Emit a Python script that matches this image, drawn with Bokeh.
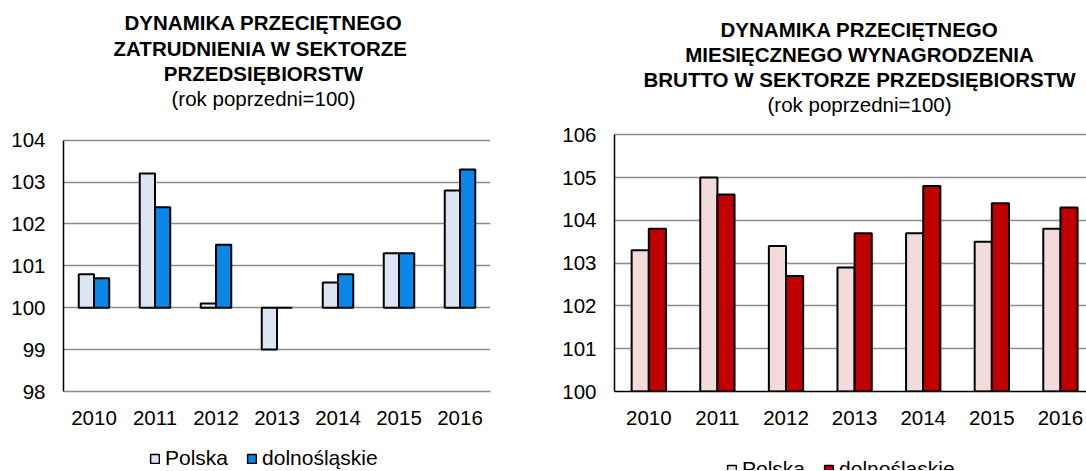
from bokeh.plotting import figure
from bokeh.models import Range1d, FixedTicker, Label, Legend, LegendItem, ColumnDataSource
from bokeh.layouts import row, column
from bokeh.embed import file_html
from bokeh.resources import INLINE
from bokeh.transform import dodge

# ---------------- data ----------------
years = ["2010", "2011", "2012", "2013", "2014", "2015", "2016"]
emp_polska = [100.8, 103.2, 100.1, 99.0, 100.6, 101.3, 102.8]
emp_dolnoslaskie = [100.7, 102.4, 101.5, 100.0, 100.8, 101.3, 103.3]
wage_polska = [103.3, 105.0, 103.4, 102.9, 103.7, 103.5, 103.8]
wage_dolnoslaskie = [103.8, 104.6, 102.7, 103.7, 104.8, 104.4, 104.3]
emp_ticks = [98, 99, 100, 101, 102, 103, 104]
wage_ticks = [100, 101, 102, 103, 104, 105, 106]
base_value = 100
series_names = ["Polska", "dolnośląskie"]

emp_title = ["DYNAMIKA PRZECIĘTNEGO", "ZATRUDNIENIA  W SEKTORZE", "PRZEDSIĘBIORSTW"]
wage_title = ["DYNAMIKA PRZECIĘTNEGO", "MIESIĘCZNEGO WYNAGRODZENIA",
              "BRUTTO W SEKTORZE PRZEDSIĘBIORSTW"]
subtitle = "(rok poprzedni=100)"

FONT = "Liberation Sans"
FS = "20.5px"
FS_LEG = "21px"


def make_chart(pol, dol, ticks, colors, geo):
    xs = [i + 0.5 for i in range(len(years))]
    src = ColumnDataSource(dict(x=xs, year=years, pol=pol, dol=dol,
                                base=[base_value] * len(years)))
    p = figure(frame_width=geo["fw"], frame_height=geo["fh"],
               min_border_left=geo["bl"], min_border_right=geo["br"],
               min_border_top=0, min_border_bottom=geo["bb"],
               x_range=Range1d(0, geo["xend"]),
               y_range=Range1d(ticks[0], geo["ytop"]),
               output_backend="svg", toolbar_location=None, title=None)
    p.outline_line_color = None
    p.background_fill_color = "white"
    p.border_fill_color = "white"

    bar_kw = dict(bottom="base", width=0.25, source=src, line_color="black", line_width=2)
    p.vbar(x=dodge("x", -0.125), top="pol", fill_color=colors[0], **bar_kw)
    p.vbar(x=dodge("x", 0.125), top="dol", fill_color=colors[1], **bar_kw)

    # grid
    p.xgrid.grid_line_color = None
    p.ygrid.ticker = FixedTicker(ticks=ticks)
    p.ygrid.grid_line_color = "#8c8c8c"
    p.ygrid.grid_line_width = 1.5
    p.ygrid.level = "underlay"

    # y axis
    ya = p.yaxis[0]
    ya.ticker = FixedTicker(ticks=ticks)
    ya.bounds = (ticks[0], ticks[-1])
    ya.axis_line_color = "black"
    ya.axis_line_width = 1.5
    ya.major_tick_line_color = None
    ya.minor_tick_line_color = None
    ya.major_tick_out = 0
    ya.major_tick_in = 0
    ya.major_label_standoff = 18
    ya.major_label_text_font = FONT
    ya.major_label_text_font_size = FS
    ya.major_label_text_color = "black"

    # x axis
    xa = p.xaxis[0]
    xa.ticker = FixedTicker(ticks=xs)
    xa.major_label_overrides = {x: y for x, y in zip(xs, years)}
    xa.axis_line_color = geo["xaxis_color"]
    xa.axis_line_width = 1.5
    xa.major_tick_line_color = None
    xa.minor_tick_line_color = None
    xa.major_tick_out = 0
    xa.major_tick_in = 0
    xa.major_label_standoff = 19
    xa.major_label_text_font = FONT
    xa.major_label_text_font_size = FS
    xa.major_label_text_color = "black"

    # titles (inside the frame area, above the plotted range)
    lines = geo["title"] + [subtitle]
    for i, (txt, yy) in enumerate(zip(lines, geo["title_y"])):
        p.add_layout(Label(x=geo["title_x"], y=yy, x_units="screen", y_units="screen",
                           text=txt, text_align="center", text_baseline="alphabetic",
                           text_font=FONT, text_font_size=FS,
                           text_font_style="bold" if i < len(lines) - 1 else "normal",
                           text_color="black"))

    # legend in its own strip below the chart
    lf = figure(width=geo["bl"] + geo["fw"] + geo["br"], height=geo["leg_h"],
                min_border_left=0, min_border_right=0, min_border_top=0, min_border_bottom=0,
                x_range=Range1d(0, 1), y_range=Range1d(0, 1),
                x_axis_type=None, y_axis_type=None,
                output_backend="svg", toolbar_location=None, title=None)
    lf.outline_line_color = None
    lf.xgrid.visible = False
    lf.ygrid.visible = False
    leg_kw = dict(bottom="base", width=0.25, source=src, line_color="black", line_width=1.5)
    g1 = lf.vbar(x=dodge("x", -0.125), top="pol", fill_color=colors[0], visible=False, **leg_kw)
    g2 = lf.vbar(x=dodge("x", 0.125), top="dol", fill_color=colors[1], visible=False, **leg_kw)
    legend = Legend(items=[LegendItem(label=series_names[0], renderers=[g1], index=0),
                           LegendItem(label=series_names[1], renderers=[g2], index=0)],
                    orientation="horizontal", location=geo["leg"],
                    glyph_width=11, glyph_height=11, label_standoff=5, spacing=18,
                    padding=0, margin=0, border_line_color=None,
                    background_fill_alpha=0, label_text_font=FONT,
                    label_text_font_size=FS_LEG, label_text_color="black", label_height=20)
    lf.add_layout(legend, "center")
    return column(p, lf, spacing=0)


left = make_chart(emp_polska, emp_dolnoslaskie, emp_ticks, ["#DCE6F2", "#0A88E8"],
                  dict(fw=427, fh=391, bl=63, br=40, bb=49, xend=7, ytop=98 + 391 / 41.9,
                       xaxis_color="#8c8c8c", title=emp_title, title_x=200,
                       title_y=[368.7, 343, 318, 293.5], leg=(86, 0), leg_h=30))
right = make_chart(wage_polska, wage_dolnoslaskie, wage_ticks, ["#F2DCDB", "#C00000"],
                   dict(fw=472, fh=391, bl=84, br=0, bb=49, xend=6.88, ytop=100 + 391 / 42.8,
                        xaxis_color="black", title=wage_title, title_x=245,
                        title_y=[362, 337, 312, 287.5], leg=(112, -11), leg_h=30))

layout = row(left, right, spacing=0)
open("out.html", "w").write(file_html(layout, INLINE))
